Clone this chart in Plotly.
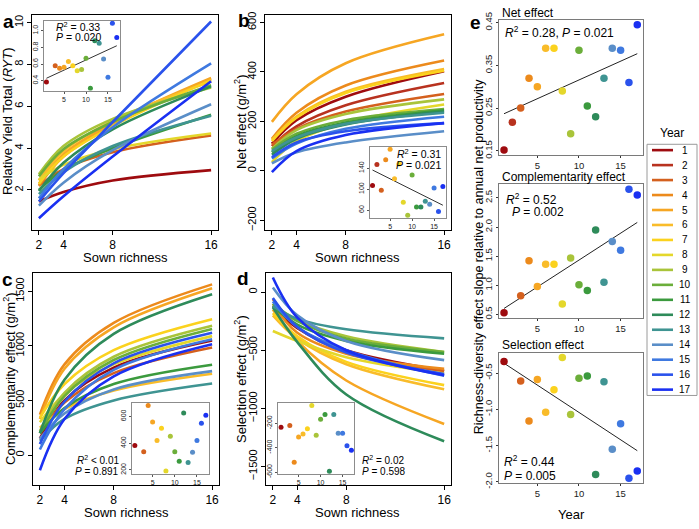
import plotly.graph_objects as go
import numpy as np

W, H = 699, 529
FONT = "Liberation Sans, Arial, sans-serif"

# ---------------- data ----------------
richness = [2, 4, 8, 16]
years = list(range(1, 18))
year_colors = {
    1: "#9E0B0F", 2: "#B8321F", 3: "#D4601E", 4: "#EC8A1C", 5: "#F6A623",
    6: "#F9BC2A", 7: "#FBD21E", 8: "#E4D72B", 9: "#A9C43A", 10: "#6BAE3A",
    11: "#3B9A3E", 12: "#2E8B5A", 13: "#3F9492", 14: "#5A8EC8", 15: "#3F79E0",
    16: "#2A52EC", 17: "#1A30F2",
}

# fitted curves (value at sown richness 2, 4, 8, 16) per year
ryt_curves = {
    1: [1.45, 1.9, 2.45, 2.95], 3: [2.2, 3.0, 3.8, 4.6], 4: [2.2, 3.6, 5.1, 7.3],
    5: [2.3, 3.7, 5.2, 7.35], 6: [2.45, 3.85, 5.3, 7.2], 7: [2.3, 3.6, 5.05, 7.25],
    8: [2.5, 3.2, 3.95, 4.7], 9: [2.75, 4.1, 5.4, 6.9], 10: [2.65, 3.95, 5.25, 7.0],
    11: [2.0, 2.95, 4.0, 5.6], 12: [1.95, 3.3, 4.9, 6.95], 13: [1.8, 2.85, 4.1, 5.55],
    14: [1.25, 2.35, 3.9, 6.1], 15: [1.6, 3.0, 5.0, 8.05], 16: [1.45, 2.8, 5.25, 10.05],
    17: [0.65, 1.7, 3.6, 7.2],
}
net_curves = {
    1: [110, 205, 300, 403], 2: [100, 180, 265, 355], 3: [105, 170, 240, 311],
    4: [130, 235, 345, 446], 5: [198, 310, 435, 552], 6: [125, 220, 320, 412],
    7: [120, 215, 315, 405], 8: [35, 120, 195, 268], 9: [90, 165, 230, 289],
    10: [85, 150, 205, 250], 11: [75, 140, 195, 245], 12: [65, 130, 188, 240],
    13: [80, 135, 190, 235], 14: [30, 75, 115, 160], 15: [50, 110, 170, 219],
    16: [55, 115, 160, 193], 17: [-5, 80, 145, 193],
}
comp_curves = {
    1: [150, 500, 800, 1050], 3: [200, 480, 750, 985], 4: [370, 830, 1210, 1563],
    5: [330, 790, 1170, 1527], 6: [250, 420, 590, 744], 7: [340, 650, 960, 1244],
    8: [300, 560, 830, 1089], 9: [220, 570, 900, 1184], 10: [200, 540, 870, 1155],
    11: [200, 430, 650, 827], 12: [200, 690, 1110, 1473], 13: [130, 330, 500, 655],
    14: [150, 380, 600, 768], 15: [50, 420, 780, 1060], 16: [100, 490, 840, 1119],
    17: [-140, 330, 720, 1014],
}
sel_curves = {
    1: [-120, -310, -500, -677], 3: [-60, -300, -520, -680], 4: [-100, -350, -530, -660],
    5: [-150, -420, -760, -1134], 6: [-200, -400, -620, -836], 7: [-180, -380, -600, -800],
    8: [-334, -420, -560, -700], 9: [-100, -240, -380, -515], 10: [-100, -250, -400, -515],
    11: [-120, -280, -420, -530], 12: [-130, -430, -880, -1282], 13: [-120, -230, -320, -398],
    14: [40, -200, -420, -585], 15: [-80, -300, -500, -720], 16: [-50, -300, -520, -705],
    17: [125, -220, -500, -715],
}

# inset scatter (slope by year)
inset_a_years = [1, 3, 4, 5, 6, 7, 8, 9, 10, 11, 12, 13, 14, 15, 16, 17]
inset_a_vals = [0.385, 0.58, 0.55, 0.56, 0.63, 0.58, 0.52, 0.535, 0.67, 0.31, 0.88, 0.85, 0.66, 0.44, 1.09, 0.92]
inset_b_years = list(range(1, 18))
inset_b_vals = [107, 147, 98, 156, 176, 120, 148, 75, 50, 127, 66, 66, 77, 71, 102, 57, 105]
inset_c_years = [1, 3, 4, 5, 6, 7, 8, 9, 10, 11, 12, 13, 14, 15, 16, 17]
inset_c_vals = [383, 335, 681, 558, 420, 511, 191, 451, 335, 264, 625, 255, 332, 420, 548, 609]
inset_d_years = [1, 3, 4, 5, 6, 7, 8, 9, 10, 11, 12, 13, 14, 15, 16, 17]
inset_d_vals = [-232, -218, -520, -312, -288, -245, -53, -298, -165, -128, -594, -128, -282, -282, -384, -421]

# panel e
e_net_years = list(range(1, 18))
e_net_vals = [0.152, 0.217, 0.25, 0.32, 0.30, 0.39, 0.39, 0.29, 0.19, 0.385, 0.255, 0.23, 0.32, 0.39, 0.385, 0.31, 0.445]
e_comp_years = [1, 3, 4, 5, 6, 7, 8, 9, 10, 11, 12, 13, 14, 15, 16, 17]
e_comp_vals = [0.53, 0.82, 1.42, 0.98, 1.36, 1.36, 0.68, 1.47, 1.01, 0.91, 1.95, 1.05, 1.75, 1.6, 2.65, 2.55]
e_sel_years = [1, 3, 4, 5, 6, 7, 8, 9, 10, 11, 12, 13, 14, 15, 16, 17]
e_sel_vals = [-0.34, -0.61, -1.16, -0.59, -1.04, -0.73, -0.285, -1.07, -0.57, -0.54, -1.9, -0.62, -1.55, -1.2, -1.95, -1.85]

# ---------------- helpers ----------------
def dx(x0, x1):
    return [x0 / W, x1 / W]

def dy(y0, y1):
    return [1 - y1 / H, 1 - y0 / H]

def ext(vals, f=0.04):
    lo, hi = min(vals), max(vals)
    d = (hi - lo) * f
    return [lo - d, hi + d]

fig = go.Figure()
layout = {}

base_axis = dict(showline=True, linecolor="black", linewidth=1, mirror=True,
                 ticks="outside", ticklen=4, tickwidth=1, tickcolor="black",
                 showgrid=False, zeroline=False,
                 tickfont=dict(size=12, color="black", family=FONT))

# main panels
main = [
    (1, ryt_curves, [32, 218], [7, 228], [0.09, 10.37], [2, 4, 6, 8, 10]),
    (2, net_curves, [265, 451], [7, 228], [-239, 631], [-200, 0, 200, 400, 600]),
    (3, comp_curves, [33, 219], [272, 490], [-275, 1669], [0, 500, 1000, 1500]),
    (4, sel_curves, [266, 451], [272, 490], [-1659, 166], [-1500, -1000, -500, 0]),
]
for n, curves, xd, yd, yr, yt in main:
    sx = "" if n == 1 else str(n)
    layout["xaxis" + sx] = dict(base_axis, domain=dx(*xd), range=[1.44, 16.56],
                                tickvals=richness, anchor="y" + sx)
    layout["yaxis" + sx] = dict(base_axis, domain=dy(*yd), range=yr, tickvals=yt,
                                tickangle=-90, anchor="x" + sx,
                                tickfont=dict(size=11, color="black", family=FONT))
    for yv in curves:
        fig.add_trace(go.Scatter(
            x=richness, y=curves[yv], mode="lines", line_shape="spline",
            line=dict(color=year_colors[yv], width=2.6),
            xaxis="x" + sx, yaxis="y" + sx, showlegend=False, hoverinfo="skip"))

# insets
inset_axis = dict(showline=True, linecolor="#8c8c8c", linewidth=1, mirror=True,
                  ticks="outside", ticklen=2, tickwidth=1, tickcolor="#555",
                  showgrid=False, zeroline=False,
                  tickfont=dict(size=7, color="#222", family=FONT))
insets = [
    (5, inset_a_years, inset_a_vals, [43.6, 119.6], [13, 85], [0.4, 0.6, 0.8, 1.0], ["0.4", "0.6", "0.8", "1.0"], True),
    (6, inset_b_years, inset_b_vals, [369.7, 445.7], [142.5, 215.6], [60, 100, 140], ["60", "100", "140"], True),
    (7, inset_c_years, inset_c_vals, [132, 208.7], [405.7, 478.4], [200, 400, 600], ["200", "400", "600"], False),
    (8, inset_d_years, inset_d_vals, [278.2, 354.2], [405.6, 478.6], [-600, -400, -200], ["-600", "-400", "-200"], False),
]
for n, yrs, vals, xd, yd, yt, ytl, showfit in insets:
    sx = str(n)
    layout["xaxis" + sx] = dict(inset_axis, domain=dx(*xd), range=[0.36, 17.64],
                                tickvals=[5, 10, 15], anchor="y" + sx)
    layout["yaxis" + sx] = dict(inset_axis, domain=dy(*yd), range=ext(vals),
                                tickvals=yt, ticktext=ytl, tickangle=-90, anchor="x" + sx)
    if showfit:
        b1, b0 = np.polyfit(yrs, vals, 1)
        xs = [min(yrs), max(yrs)]
        fig.add_trace(go.Scatter(x=xs, y=[b0 + b1 * v for v in xs], mode="lines",
                                 line=dict(color="#333", width=1), xaxis="x" + sx,
                                 yaxis="y" + sx, showlegend=False, hoverinfo="skip"))
    fig.add_trace(go.Scatter(x=yrs, y=vals, mode="markers",
                             marker=dict(size=5, color=[year_colors[v] for v in yrs]),
                             xaxis="x" + sx, yaxis="y" + sx, showlegend=False, hoverinfo="skip"))

# panel e
e_axis = dict(showline=True, linecolor="#7a7a7a", linewidth=1, mirror=True,
              ticks="outside", ticklen=2, tickwidth=1, tickcolor="#333",
              showgrid=False, zeroline=False,
              tickfont=dict(size=9.5, color="#222", family=FONT))
e_specs = [
    (9, e_net_years, e_net_vals, [12, 151], [0.15, 0.25, 0.35, 0.45], ["0.15", "0.25", "0.35", "0.45"]),
    (10, e_comp_years, e_comp_vals, [181, 318], [0.5, 1.0, 1.5, 2.0, 2.5], ["0.5", "1.0", "1.5", "2.0", "2.5"]),
    (11, e_sel_years, e_sel_vals, [354, 488], [-2.0, -1.5, -1.0, -0.5], ["-2.0", "-1.5", "-1.0", "-0.5"]),
]
for n, yrs, vals, yd, yt, ytl in e_specs:
    sx = str(n)
    layout["xaxis" + sx] = dict(e_axis, domain=dx(498.7, 642.6), range=[0.36, 17.64],
                                tickvals=[5, 10, 15], anchor="y" + sx)
    layout["yaxis" + sx] = dict(e_axis, domain=dy(*yd), range=ext(vals),
                                tickvals=yt, ticktext=ytl, tickangle=-90, anchor="x" + sx)
    b1, b0 = np.polyfit(yrs, vals, 1)
    xs = [min(yrs), max(yrs)]
    fig.add_trace(go.Scatter(x=xs, y=[b0 + b1 * v for v in xs], mode="lines",
                             line=dict(color="#222", width=1), xaxis="x" + sx,
                             yaxis="y" + sx, showlegend=False, hoverinfo="skip"))
    fig.add_trace(go.Scatter(x=yrs, y=vals, mode="markers",
                             marker=dict(size=7.5, color=[year_colors[v] for v in yrs]),
                             xaxis="x" + sx, yaxis="y" + sx, showlegend=False, hoverinfo="skip"))

# ---------------- text ----------------
ann = []
def text(x, y, s, size=12, angle=0, xanchor="center", bold=False, color="black"):
    if bold:
        s = "<b>" + s + "</b>"
    ann.append(dict(x=x / W, y=1 - y / H, xref="paper", yref="paper", text=s,
                    showarrow=False, textangle=angle, xanchor=xanchor, yanchor="middle",
                    font=dict(size=size, family=FONT, color=color)))

for lab, x, y in [("a", 8, 14), ("b", 244, 13), ("c", 7, 279), ("d", 243, 278), ("e", 475, 15)]:
    text(x, y, lab, size=19, bold=True)

text(125, 256, "Sown richness", 13)
text(358, 256, "Sown richness", 13)
text(126, 518, "Sown richness", 13)
text(358, 518, "Sown richness", 13)
text(8, 117, "Relative Yield Total (<i>RYT</i>)", 13, angle=-90)
text(240, 117, "Net effect (g/m<sup>2</sup>)", 13, angle=-90)
text(9, 381, "Complementarity effect (g/m<sup>2</sup>)", 13, angle=-90)
text(240, 381, "Selection effect (g/m<sup>2</sup>)", 13, angle=-90)
text(479, 255, "Richness-diversity effect slope relative to annual net productivity", 12.5, angle=-90)
text(571, 520, "Year", 13)

R2 = "<i>R</i><sup>2</sup>"
text(54, 19, R2 + " = 0.33", 10.5, xanchor="left")
text(54, 30, "<i>P</i> = 0.020", 10.5, xanchor="left")
text(443, 149, R2 + " = 0.31", 10.5, xanchor="right")
text(443, 161, "<i>P</i> = 0.021", 10.5, xanchor="right")
text(121, 464, R2 + " < 0.01", 10, xanchor="right")
text(121, 476.5, "<i>P</i> = 0.891", 10, xanchor="right")
text(360, 464, R2 + " = 0.02", 10, xanchor="left")
text(360, 476.5, "<i>P</i> = 0.598", 10, xanchor="left")

text(500, 5, "Net effect", 12, xanchor="left")
text(500, 174, "Complementarity effect", 12, xanchor="left")
text(500, 346, "Selection effect", 12, xanchor="left")
text(503, 25, R2 + " = 0.28, <i>P</i> = 0.021", 12, xanchor="left")
text(504, 196, R2 + " = 0.52", 12, xanchor="left")
text(510, 210, "<i>P</i> = 0.002", 12, xanchor="left")
text(502, 465, R2 + " = 0.44", 12, xanchor="left")
text(502, 481, "<i>P</i> = 0.005", 12, xanchor="left")

# ---------------- legend (drawn as a guide box) ----------------
shapes = []
LX0, LX1, LY0, LY1 = 647, 697, 140, 398
shapes.append(dict(type="rect", xref="paper", yref="paper",
                   x0=LX0 / W, x1=LX1 / W, y0=1 - LY1 / H, y1=1 - LY0 / H,
                   line=dict(color="#9a9a9a", width=1), fillcolor="white"))
text((LX0 + LX1) / 2, 128, "Year", 12)
row_h = (LY1 - LY0 - 12) / (len(years) - 1)
for i, yv in enumerate(years):
    ry = LY0 + 6 + i * row_h
    shapes.append(dict(type="line", xref="paper", yref="paper",
                       x0=(LX0 + 5) / W, x1=(LX0 + 26) / W, y0=1 - ry / H, y1=1 - ry / H,
                       line=dict(color=year_colors[yv], width=2.6)))
    text(LX0 + 38, ry, str(yv), 10)

layout.update(
    width=W, height=H, margin=dict(l=0, r=0, t=0, b=0),
    paper_bgcolor="white", plot_bgcolor="white",
    font=dict(family=FONT, color="black"),
    annotations=ann, shapes=shapes, showlegend=False,
)
fig.update_layout(**layout)
fig.write_html(
    "out.html",
    config={"displayModeBar": False},
    post_script="document.documentElement.style.margin='0';document.body.style.margin='0';"
                "document.body.style.padding='0';document.body.style.overflow='hidden';",
)
